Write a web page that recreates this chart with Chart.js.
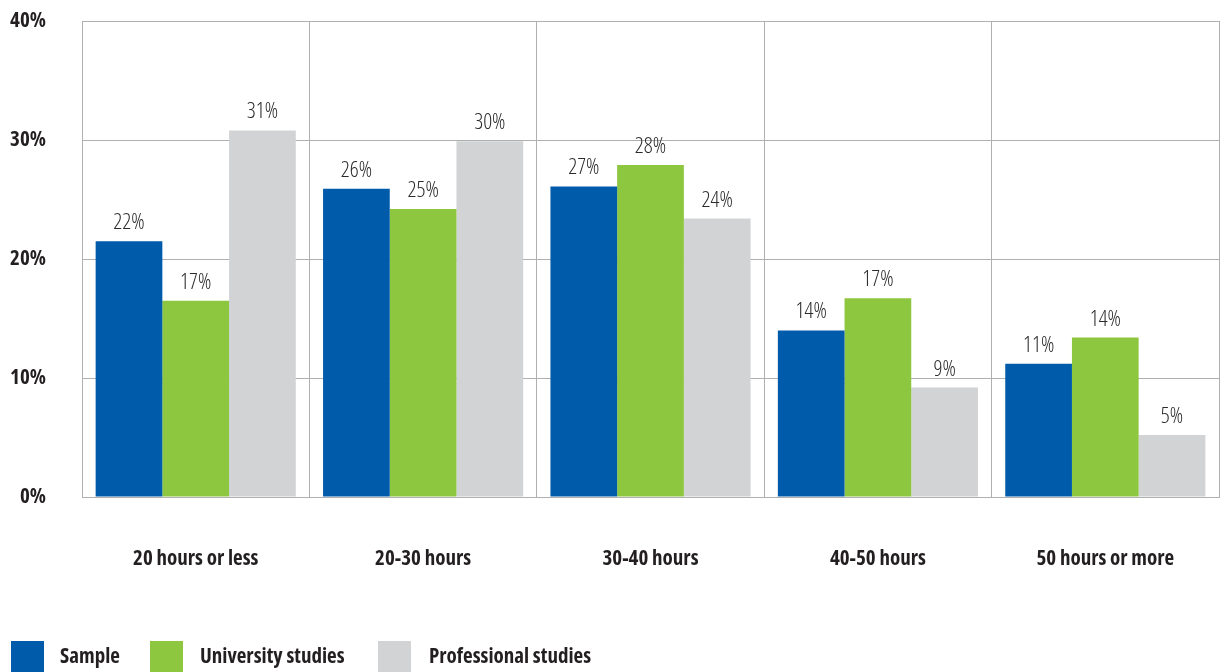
<!DOCTYPE html>
<html>
<head>
<meta charset="utf-8">
<script src="https://cdn.jsdelivr.net/npm/chart.js@4.4.1/dist/chart.umd.min.js"></script>
<style>
  html, body { margin: 0; padding: 0; background: #ffffff; }
  #wrap { position: relative; width: 1220px; height: 672px; overflow: hidden; }
  #c { position: absolute; left: 0; top: 0; }
  .lg { position: absolute; font-family: 'Open Sans', sans-serif; font-stretch: 75%; font-weight: bold; font-size: 21px; color: #231f20; line-height: 1; white-space: nowrap; }
  .sw { position: absolute; width: 33px; height: 31px; }
</style>
</head>
<body>
<div id="wrap">
  <canvas id="c" width="1220" height="672"></canvas>
  <div id="legend"></div>
</div>
<script>
const categories = ['20 hours or less', '20-30 hours', '30-40 hours', '40-50 hours', '50 hours or more'];
const seriesNames = ['Sample', 'University studies', 'Professional studies'];
const sampleValues = [21.5, 25.9, 26.1, 14.0, 11.2];
const universityValues = [16.5, 24.2, 27.9, 16.7, 13.4];
const professionalValues = [30.8, 29.9, 23.4, 9.2, 5.2];
const sampleLabels = ['22%', '26%', '27%', '14%', '11%'];
const universityLabels = ['17%', '25%', '28%', '17%', '14%'];
const professionalLabels = ['31%', '30%', '24%', '9%', '5%'];
const yTicks = [0, 10, 20, 30, 40];
const colors = ['#005baa', '#8dc63f', '#d1d3d4'];

const FONT = "'Open Sans', sans-serif";
const TEXT = '#231f20';

const valueLabelPlugin = {
  id: 'valueLabels',
  afterDatasetsDraw(chart) {
    const ctx = chart.ctx;
    ctx.save();
    ctx.font = "300 condensed 22px " + FONT;
    ctx.fillStyle = '#2b2b2b';
    ctx.textAlign = 'center';
    ctx.textBaseline = 'alphabetic';
    chart.data.datasets.forEach((ds, i) => {
      const meta = chart.getDatasetMeta(i);
      meta.data.forEach((bar, j) => {
        ctx.fillText(ds.valueLabels[j], bar.x, bar.y - 12);
      });
    });
    ctx.restore();
  }
};

const labelSets = [sampleLabels, universityLabels, professionalLabels];
const valueSets = [sampleValues, universityValues, professionalValues];

function zeroPad(axis) {
  axis.paddingLeft = 0; axis.paddingRight = 0; axis.paddingTop = 0; axis.paddingBottom = 0;
}

new Chart(document.getElementById('c'), {
  type: 'bar',
  data: {
    labels: categories,
    datasets: seriesNames.map((name, i) => ({
      label: name,
      data: valueSets[i],
      valueLabels: labelSets[i],
      backgroundColor: colors[i],
      borderWidth: 0,
      categoryPercentage: 0.88,
      barPercentage: 1.0
    }))
  },
  options: {
    responsive: false,
    animation: false,
    layout: { padding: { left: 0, right: 1, top: 21, bottom: 0 } },
    plugins: {
      legend: { display: false },
      tooltip: { enabled: false }
    },
    scales: {
      x: {
        grid: { display: true, color: '#b0b0b0', lineWidth: 1, drawTicks: false, offset: true },
        border: { display: true, color: '#b0b0b0' },
        ticks: {
          padding: 49,
          color: TEXT,
          font: { family: FONT, size: 21, weight: 'bold condensed' },
          maxRotation: 0
        },
        afterFit(axis) { axis.height = 175; zeroPad(axis); }
      },
      y: {
        min: 0,
        max: 40,
        afterBuildTicks(axis) { axis.ticks = yTicks.map(v => ({ value: v })); },
        grid: { color: '#b0b0b0', lineWidth: 1, drawTicks: false },
        border: { display: true, color: '#b0b0b0' },
        ticks: {
          padding: 36,
          color: TEXT,
          font: { family: FONT, size: 21, weight: 'bold condensed' },
          callback: v => v + '%'
        },
        afterFit(axis) { axis.width = 82; zeroPad(axis); }
      }
    }
  },
  plugins: [valueLabelPlugin]
});

const legendPos = [{ box: 11, text: 60 }, { box: 150, text: 200 }, { box: 378, text: 429 }];
const legend = document.getElementById('legend');
seriesNames.forEach((name, i) => {
  const sw = document.createElement('div');
  sw.className = 'sw';
  sw.style.left = legendPos[i].box + 'px';
  sw.style.top = '641px';
  sw.style.background = colors[i];
  legend.appendChild(sw);
  const t = document.createElement('div');
  t.className = 'lg';
  t.style.left = legendPos[i].text + 'px';
  t.style.top = '645px';
  t.textContent = name;
  legend.appendChild(t);
});
</script>
</body>
</html>
